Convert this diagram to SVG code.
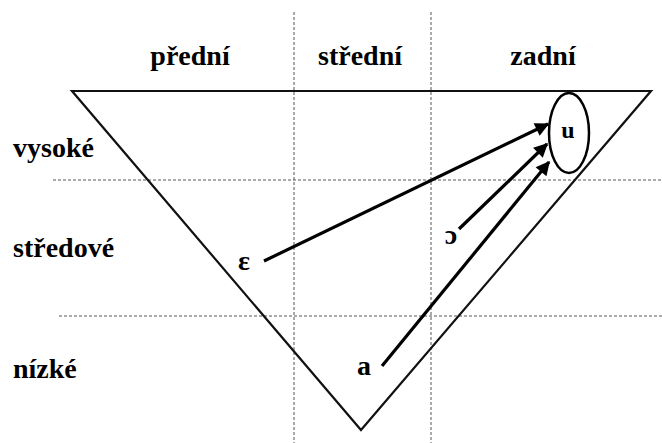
<svg xmlns="http://www.w3.org/2000/svg" width="662" height="443" viewBox="0 0 662 443">
<defs>
<marker id="ah" viewBox="0 0 10 10" refX="9" refY="5" markerWidth="16" markerHeight="14" markerUnits="userSpaceOnUse" orient="auto">
<path d="M0,0 L10,5 L0,10 z" fill="#000"/>
</marker>
</defs>
<rect width="662" height="443" fill="#fff"/>
<g id="grid" stroke="#555" stroke-width="1" stroke-dasharray="3 2" fill="none">
<line x1="294" y1="12" x2="294" y2="443"/>
<line x1="431" y1="12" x2="431" y2="443"/>
<line x1="53" y1="180" x2="662" y2="180"/>
<line x1="59" y1="316" x2="662" y2="316"/>
</g>
<g id="triangle">
<polygon points="72,91 651,91 361,430" fill="none" stroke="#111" stroke-width="2.2" stroke-linejoin="miter"/>
</g>
<g id="labels">
<text x="190" y="65" text-anchor="middle" font-family="Liberation Serif" font-weight="bold" font-size="28">přední</text>
<text x="360" y="65" text-anchor="middle" font-family="Liberation Serif" font-weight="bold" font-size="28">střední</text>
<text x="543" y="65" text-anchor="middle" font-family="Liberation Serif" font-weight="bold" font-size="28">zadní</text>
<text x="13" y="157" font-family="Liberation Serif" font-weight="bold" font-size="28">vysoké</text>
<text x="13" y="257" font-family="Liberation Serif" font-weight="bold" font-size="28">středové</text>
<text x="13" y="378" font-family="Liberation Serif" font-weight="bold" font-size="28">nízké</text>
</g>
<g id="node-u">
<ellipse cx="569" cy="133" rx="20" ry="40" fill="none" stroke="#000" stroke-width="2.5"/>
<text x="568" y="138" text-anchor="middle" font-family="Liberation Serif" font-weight="bold" font-size="24">u</text>
</g>
<g id="node-e"><text x="244" y="270" text-anchor="middle" font-family="Liberation Serif" font-weight="bold" font-size="28">ε</text></g>
<g id="node-o"><text x="451" y="244" text-anchor="middle" font-family="Liberation Serif" font-weight="bold" font-size="28">ɔ</text></g>
<g id="node-a"><text x="364" y="375" text-anchor="middle" font-family="Liberation Serif" font-weight="bold" font-size="28">a</text></g>
<g id="connectors" stroke="#000" stroke-width="3.2" fill="none">
<line x1="264" y1="261" x2="548" y2="124" marker-end="url(#ah)"/>
<line x1="459" y1="229" x2="547" y2="144" marker-end="url(#ah)"/>
<line x1="382" y1="366" x2="549" y2="162" marker-end="url(#ah)"/>
</g>
</svg>
